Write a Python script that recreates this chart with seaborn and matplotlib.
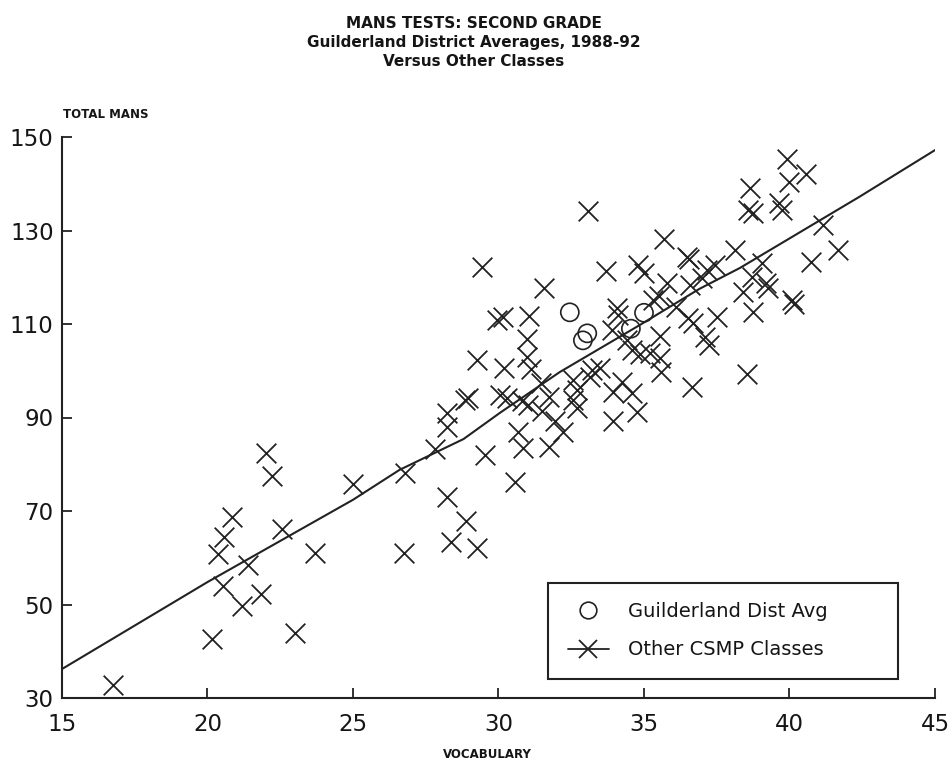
import matplotlib
matplotlib.use("Agg")
import matplotlib.pyplot as plt
import seaborn as sns
import pandas as pd
from matplotlib.lines import Line2D

# Other CSMP classes: vocabulary score vs total MANS score
other_vocab = [
    16.75, 20.15, 20.36, 20.57, 20.84, 20.53, 21.2, 21.4, 21.84, 22.0, 22.2, 22.56,
    23.0, 23.7, 25.0, 26.75, 26.8, 27.82, 28.23, 28.37, 28.9, 29.26, 28.23, 28.23,
    28.85, 28.95, 29.26, 29.43, 29.54, 29.95, 30.15, 30.05, 30.3, 30.19, 30.57, 30.67,
    30.8, 30.84, 30.98, 30.98, 31.05, 31.1, 31.0, 31.45, 31.5, 31.56, 31.72, 31.75,
    31.95, 32.2, 32.56, 32.7, 32.56, 32.7, 33.08, 33.14, 33.2, 33.5, 33.7, 33.93,
    33.93, 33.9, 34.07, 34.1, 34.24, 34.4, 34.6, 34.86, 34.6, 34.76, 34.8, 35.0,
    35.2, 35.3, 35.5, 35.55, 35.55, 35.6, 35.7, 35.8, 36.1, 36.48, 36.55, 36.58,
    36.5, 36.7, 36.65, 37.0, 37.15, 37.1, 37.25, 37.44, 37.5, 38.13, 38.4, 38.54,
    38.64, 38.57, 38.75, 38.7, 38.74, 39.05, 39.2, 39.26, 39.64, 39.74, 39.9, 40.0,
    40.1, 40.15, 40.57, 40.74, 41.15, 41.67,
]
other_total = [
    32.8, 42.6, 60.8, 64.4, 68.7, 54.0, 49.7, 58.4, 52.2, 82.4, 77.5, 66.1,
    43.9, 61.0, 75.8, 61.0, 78.2, 83.2, 73.0, 63.4, 67.9, 62.1, 91.0, 88.0,
    93.7, 94.2, 102.4, 122.2, 82.0, 110.9, 111.5, 94.8, 94.2, 100.6, 76.2, 86.8,
    93.5, 83.5, 106.8, 103.0, 111.7, 100.4, 92.7, 97.4, 91.4, 117.7, 94.4, 83.6,
    89.2, 86.8, 98.0, 95.9, 93.7, 92.1, 134.2, 98.7, 100.2, 100.6, 121.3, 89.2,
    95.5, 108.8, 113.4, 111.9, 97.5, 106.5, 104.4, 103.6, 95.3, 91.2, 122.6, 120.9,
    103.8, 115.1, 115.9, 107.4, 102.8, 99.7, 128.2, 118.8, 113.6, 124.3, 124.0, 118.3,
    111.3, 110.2, 96.5, 119.8, 121.5, 107.2, 105.5, 122.6, 111.5, 125.8, 116.8, 99.4,
    139.1, 134.4, 133.7, 120.1, 112.6, 123.0, 118.8, 117.7, 135.9, 134.4, 145.4, 140.4,
    115.1, 114.3, 142.0, 123.3, 131.2, 125.8,
]

# Guilderland district yearly averages, 1988-92
guild_vocab = [32.45, 33.05, 32.9, 34.55, 35.0]
guild_total = [112.5, 108.0, 106.5, 109.0, 112.4]

# Fitted trend for the other classes
trend_vocab = [15, 20, 25, 26.6, 28.8, 30.05, 32.1, 34.86, 36.9, 38.3, 42.4, 45]
trend_total = [36.2, 54.8, 72.4, 78.8, 85.4, 91.0, 99.7, 109.8, 117.5, 122.0, 137.2, 147.2]

x_ticks = [15, 20, 25, 30, 35, 40, 45]
y_ticks = [30, 50, 70, 90, 110, 130, 150]

title_lines = ["MANS TESTS: SECOND GRADE",
               "Guilderland District Averages, 1988-92",
               "Versus Other Classes"]

sns.set_style("ticks")
plt.rcParams["font.family"] = ["DejaVu Sans"]

ink = "#222222"
txt = "#151515"
fig = plt.figure(figsize=(9.53, 7.66), dpi=100)
ax = fig.add_axes([62 / 953, 1 - 698 / 766, (935 - 62) / 953, (698 - 137) / 766])

other_df = pd.DataFrame({"vocab": other_vocab, "total": other_total})
guild_df = pd.DataFrame({"vocab": guild_vocab, "total": guild_total})
trend_df = pd.DataFrame({"vocab": trend_vocab, "total": trend_total})

sns.lineplot(data=trend_df, x="vocab", y="total", ax=ax, color=ink, lw=1.5,
             sort=False, estimator=None)
sns.scatterplot(data=other_df, x="vocab", y="total", ax=ax, marker="x",
                s=200, color=ink, linewidth=1.3)
sns.scatterplot(data=guild_df, x="vocab", y="total", ax=ax, marker="o",
                s=170, facecolor="none", edgecolor=ink, linewidth=1.2)

ax.set_xlim(15, 45)
ax.set_ylim(30, 150)
ax.set_xticks(x_ticks)
ax.set_yticks(y_ticks)
ax.tick_params(direction="in", length=7, width=1.3, colors=ink,
               labelsize=16.5, labelcolor=txt)
ax.tick_params(axis="y", pad=6)
ax.tick_params(axis="x", pad=11)
for side in ("top", "right"):
    ax.spines[side].set_visible(False)
for side in ("left", "bottom"):
    ax.spines[side].set_linewidth(1.5)
    ax.spines[side].set_color(ink)

ax.set_xlabel("")
ax.set_ylabel("")
fig.text(487 / 953, 1 - 754 / 766, "VOCABULARY", ha="center", va="center",
         fontsize=8.5, fontweight="bold", color=txt)
fig.text(63 / 953, 1 - 115 / 766, "TOTAL MANS", ha="left", va="center",
         fontsize=8.5, fontweight="bold", color=txt)

for i, line in enumerate(title_lines):
    fig.text(474 / 953, 1 - (23 + 19.5 * i) / 766, line, ha="center", va="center",
             fontsize=11, fontweight="bold", color=txt)

handles = [
    Line2D([], [], marker="o", markersize=12, markerfacecolor="none",
           markeredgecolor=ink, markeredgewidth=1.2, linestyle="none"),
    Line2D([], [], marker="x", markersize=13, color=ink, markeredgewidth=1.3,
           lw=1.3),
]
leg = ax.legend(handles, ["Guilderland Dist Avg", "Other CSMP Classes"],
                loc="lower left", bbox_to_anchor=(0.557, 0.034, 0.401, 0.18),
                mode="expand", fontsize=14, frameon=True, fancybox=False,
                framealpha=1, edgecolor=ink, borderpad=1.0, labelspacing=1.0,
                handlelength=2.1, handletextpad=1.0, borderaxespad=0)
leg.get_frame().set_linewidth(1.5)
for t in leg.get_texts():
    t.set_color(txt)

fig.savefig("out.png", dpi=100, facecolor="white")
